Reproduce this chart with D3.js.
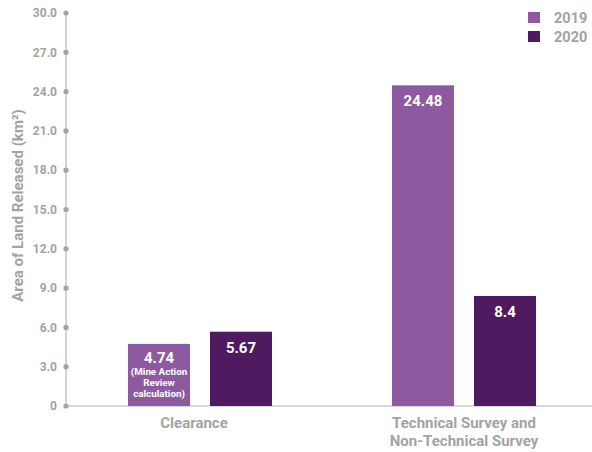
<!DOCTYPE html>
<html>
<head>
<meta charset="utf-8">
<script src="https://cdn.jsdelivr.net/npm/d3@7"></script>
<style>
  html, body { margin: 0; padding: 0; background: #fff; }
  svg { display: block; font-family: Roboto, "DejaVu Sans", sans-serif; font-weight: 700; }
</style>
</head>
<body>
<div id="chart"></div>
<script>
// ---- Data
const categories = ['Clearance', 'Technical Survey and\nNon-Technical Survey'];
const years = ['2019', '2020'];
const values2019 = [4.74, 24.48];
const values2020 = [5.67, 8.4];
const barNotes2019 = [['(Mine Action', 'Review', 'calculation)'], []];
const yTicks = [0, 3, 6, 9, 12, 15, 18, 21, 24, 27, 30];
const yLabel = 'Area of Land Released (km²)';

const colors = { '2019': '#8e5a9f', '2020': '#4f1a60' };
const grey = '#a3a3a3';

const width = 592, height = 452;
const margins = { left: 66, right: 0, top: 13, bottom: 46 };

const rows = categories.map((c, i) => ({
    category: c,
    bars: [
        { year: '2019', value: values2019[i], notes: barNotes2019[i] },
        { year: '2020', value: values2020[i], notes: [] }
    ]
}));

const svg = d3.select('#chart').append('svg')
    .attr('width', width).attr('height', height);

// ---- Scales
const mapY = d3.scaleLinear().domain([0, 30]).range([height - margins.bottom, margins.top]);
const mapX = d3.scalePoint().domain(categories).range([68, 596]).padding(0.5);
const mapBar = d3.scaleBand().domain(years).range([-72, 72]).paddingInner(20 / 82);

// ---- Y axis
const yAxis = svg.append('g').attr('transform', `translate(${margins.left},0)`);
yAxis.append('line')
    .attr('y1', mapY(30)).attr('y2', mapY(0))
    .attr('stroke', '#c6c6c6').attr('stroke-width', 1.5);
const tick = yAxis.selectAll('.tick').data(yTicks).join('g')
    .attr('class', 'tick')
    .attr('transform', d => `translate(0,${mapY(d)})`);
tick.append('circle').attr('r', 2.6).attr('fill', grey);
tick.append('text')
    .attr('x', -9).attr('dy', '0.35em')
    .attr('text-anchor', 'end')
    .attr('font-size', 12).attr('fill', grey)
    .text(d => d === 0 ? '0' : d3.format('.1f')(d));

svg.append('text')
    .attr('transform', `translate(23,${(mapY(0) + mapY(30)) / 2 - 4}) rotate(-90)`)
    .attr('text-anchor', 'middle')
    .attr('font-size', 15).attr('fill', grey)
    .text(yLabel);

// ---- X axis
svg.append('line')
    .attr('x1', margins.left).attr('x2', width)
    .attr('y1', mapY(0)).attr('y2', mapY(0))
    .attr('stroke', '#b4b4b4').attr('stroke-width', 1.2);

svg.selectAll('.cat').data(categories).join('text')
    .attr('class', 'cat')
    .attr('text-anchor', 'middle')
    .attr('font-size', 15).attr('fill', grey)
    .attr('transform', (d, i) => `translate(${mapX(d) - (i === 0 ? 6 : 0)},${mapY(0) + 22})`)
    .selectAll('tspan').data(d => d.split('\n')).join('tspan')
    .attr('x', 0).attr('dy', (d, i) => i === 0 ? 0 : 18)
    .text(d => d);

// ---- Bars
const group = svg.selectAll('.grp').data(rows).join('g')
    .attr('class', 'grp')
    .attr('transform', d => `translate(${mapX(d.category)},0)`);

const bar = group.selectAll('.bar').data(d => d.bars).join('g').attr('class', 'bar');
bar.append('rect')
    .attr('x', d => mapBar(d.year))
    .attr('y', d => mapY(d.value))
    .attr('width', mapBar.bandwidth())
    .attr('height', d => mapY(0) - mapY(d.value))
    .attr('fill', d => colors[d.year]);
bar.append('text')
    .attr('x', d => mapBar(d.year) + mapBar.bandwidth() / 2)
    .attr('y', d => mapY(d.value) + (d.notes.length ? 19 : 21))
    .attr('text-anchor', 'middle')
    .attr('font-size', 15).attr('fill', '#fff')
    .text(d => d.value);
bar.selectAll('.note').data(d => d.notes.map(n => ({ n, d }))).join('text')
    .attr('class', 'note')
    .attr('x', o => mapBar(o.d.year) + mapBar.bandwidth() / 2)
    .attr('y', (o, i) => mapY(o.d.value) + 31.5 + i * 11)
    .attr('text-anchor', 'middle')
    .attr('font-size', 9.8).attr('fill', '#fff')
    .text(o => o.n);

// ---- Legend
const legend = svg.selectAll('.leg').data(years).join('g')
    .attr('class', 'leg')
    .attr('transform', (d, i) => `translate(528,${12 + i * 19})`);
legend.append('rect').attr('width', 12).attr('height', 11).attr('fill', d => colors[d]);
legend.append('text')
    .attr('x', 26).attr('y', 10.5)
    .attr('font-size', 14.5).attr('fill', grey)
    .text(d => d);
</script>
</body>
</html>
